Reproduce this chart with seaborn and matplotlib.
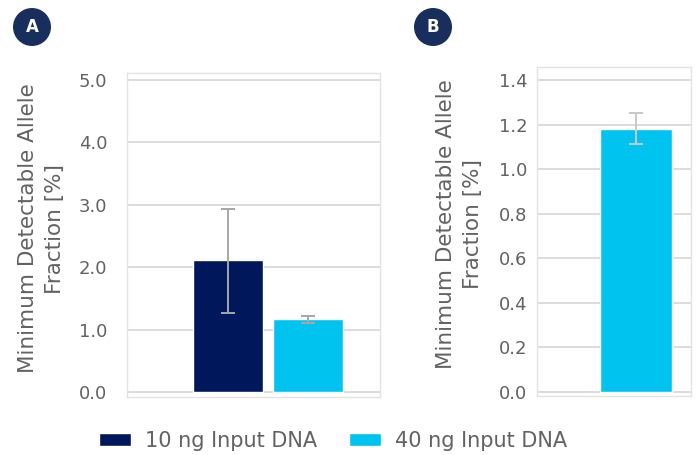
import matplotlib
matplotlib.use("Agg")
import matplotlib.pyplot as plt
import seaborn as sns
import pandas as pd
import numpy as np

# ---- data ----
input_labels = ["10 ng Input DNA", "40 ng Input DNA"]
panel_a_values = [2.12, 1.165]
panel_a_err_low = [0.85, 0.055]
panel_a_err_high = [0.81, 0.055]
panel_a_ticks = [0.0, 1.0, 2.0, 3.0, 4.0, 5.0]

panel_b_labels = ["40 ng Input DNA"]
panel_b_values = [1.18]
panel_b_err_low = [0.067]
panel_b_err_high = [0.07]
panel_b_ticks = [0.0, 0.2, 0.4, 0.6, 0.8, 1.0, 1.2, 1.4]

colors = {"10 ng Input DNA": "#00175C", "40 ng Input DNA": "#00C4EF"}
ylabel = "Minimum Detectable Allele\nFraction [%]"

sns.set_theme(style="white")
plt.rcParams["font.family"] = ["DejaVu Sans"]

W, H = 697, 455
fig = plt.figure(figsize=(W / 100, H / 100), dpi=100)

def px_axes(l, t, r, b):
    return fig.add_axes([l / W, (H - b) / H, (r - l) / W, (b - t) / H])

text_grey = "#626262"
grid_grey = "#D9D9D9"
err_grey = "#A6A6A6"

def style(ax, ticks, fmt, pad):
    ax.set_yticks(ticks)
    ax.set_yticklabels([fmt.format(t) for t in ticks], fontsize=13, color=text_grey)
    ax.tick_params(axis="y", length=0, pad=pad)
    ax.set_xticks([])
    ax.set_xlabel("")
    ax.yaxis.grid(True, color=grid_grey, linewidth=1.3)
    ax.set_axisbelow(True)
    for s in ax.spines.values():
        s.set_color("#E3E3E3")
        s.set_linewidth(1.0)

# ---- Panel A ----
axA = px_axes(127, 73, 380, 397)
dfA = pd.DataFrame({"group": ["x", "x"], "input": input_labels, "value": panel_a_values})
sns.barplot(data=dfA, x="group", y="value", hue="input", palette=colors,
            errorbar=None, width=0.8, gap=0.12, ax=axA, saturation=1, legend=True)
centersA = []
for cont in axA.containers:
    for p in cont:
        centersA.append(p.get_x() + p.get_width() / 2)
axA.errorbar(centersA, panel_a_values, yerr=[panel_a_err_low, panel_a_err_high],
             fmt="none", ecolor=err_grey, elinewidth=1.4, capsize=5, capthick=1.4)
axA.set_ylim(-0.08, 5.11)
axA.set_xlim(-0.709, 0.562)
style(axA, panel_a_ticks, "{:.1f}", 14)
axA.set_ylabel(ylabel, fontsize=15.5, color=text_grey, linespacing=1.45)
axA.yaxis.set_label_coords(-0.245, 0.52)
handles, labels = axA.get_legend_handles_labels()
axA.get_legend().remove()

# ---- Panel B ----
axB = px_axes(537, 67, 691, 396)
dfB = pd.DataFrame({"group": ["x"], "input": panel_b_labels, "value": panel_b_values})
sns.barplot(data=dfB, x="group", y="value", hue="input", palette=colors,
            errorbar=None, width=0.8, ax=axB, saturation=1, legend=False)
centersB = [p.get_x() + p.get_width() / 2 for p in axB.patches]
axB.errorbar(centersB, panel_b_values, yerr=[panel_b_err_low, panel_b_err_high],
             fmt="none", ecolor="#C8C8C8", elinewidth=1.4, capsize=5, capthick=1.4)
axB.set_ylim(-0.018, 1.458)
axB.set_xlim(-1.1, 0.61)
style(axB, panel_b_ticks, "{:.1f}", 7)
axB.set_ylabel(ylabel, fontsize=15.5, color=text_grey, linespacing=1.45)
axB.yaxis.set_label_coords(-0.35, 0.523)

# ---- legend ----
fig.legend(handles, labels, loc="center", bbox_to_anchor=(333 / W, 1 - 441 / H),
           ncol=2, frameon=False, fontsize=15, labelcolor=text_grey,
           handlelength=1.55, handleheight=0.55, handletextpad=0.67, columnspacing=1.5)

# ---- panel badges ----
for letter, cx in [("A", 32), ("B", 433)]:
    fig.text(cx / W, 1 - 27 / H, letter, ha="center", va="center", color="white",
             fontsize=12, fontweight="bold",
             bbox=dict(boxstyle="circle,pad=0.6", fc="#182F5E", ec="none"))

fig.savefig("out.png", dpi=100)
